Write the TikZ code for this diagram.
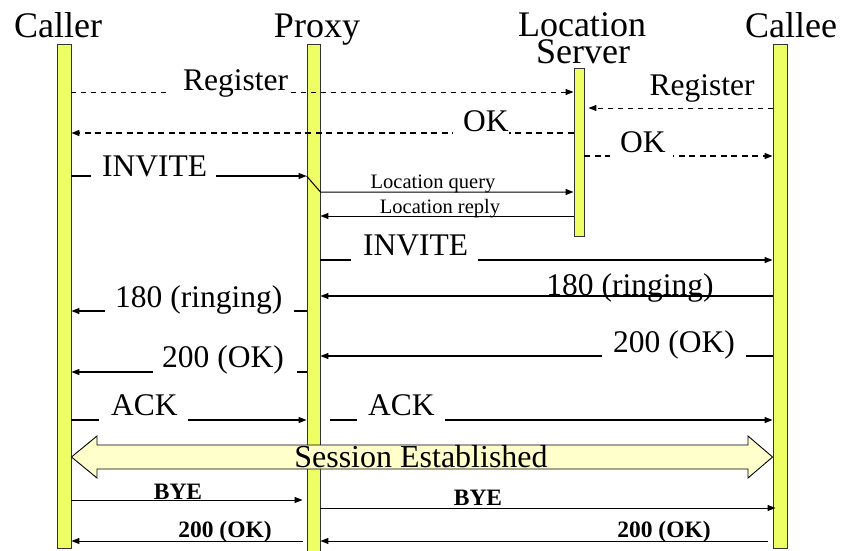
\documentclass[tikz,border=0pt]{standalone}
\usepackage{fontspec}
\setmainfont{Liberation Serif}
\usetikzlibrary{arrows.meta}
\definecolor{baryellow}{RGB}{238,255,102}
\definecolor{sessfill}{RGB}{255,255,204}
\begin{document}
\begin{tikzpicture}[x=1pt,y=-1pt,
  bar/.style={draw=black!80, line width=0.9pt, fill=baryellow, anchor=north, inner sep=0pt},
  head/.style={font=\fontsize{36}{36}\selectfont, anchor=base, inner sep=0pt},
  big/.style={font=\fontsize{31.5}{31.5}\selectfont, anchor=base, inner sep=0pt},
  gaplbl/.style={big, fill=white, inner xsep=0pt, inner ysep=7pt, anchor=base west},
  small/.style={font=\fontsize{20.5}{20.5}\selectfont, anchor=base, inner sep=0pt},
  boldlbl/.style={font=\fontsize{23.5}{23.5}\selectfont\bfseries, anchor=base, inner sep=0pt},
  msg/.style={line width=1.2pt, -{Triangle[length=8pt,width=6pt]}},
  thinmsg/.style={line width=1pt, -{Triangle[length=8pt,width=6pt]}},
  dmsgthin/.style={line width=1pt, -{Triangle[length=8pt,width=6pt]}, dash pattern=on 5pt off 5pt},
  dmsg/.style={line width=1.4pt, -{Triangle[length=8pt,width=6pt]}, dash pattern=on 6pt off 4.5pt},
]
\useasboundingbox (0,0) rectangle (841,550);

% lifelines
\node[bar, minimum width=14pt, minimum height=504pt] (caller) at (64,44) {};
\node[bar, minimum width=13pt, minimum height=510pt] (proxy) at (313.5,44) {};
\node[bar, minimum width=10pt, minimum height=168pt] (ls) at (579,68) {};
\node[bar, minimum width=14pt, minimum height=504pt] (callee) at (780,44) {};

% headers
\node[head] (hcaller) at (58,37) {Caller};
\node[head] (hproxy) at (317,37) {Proxy};
\node[head] (hloc) at (582,36) {Location};
\node[head] (hserver) at (583,63) {Server};
\node[head] (hcallee) at (791,37) {Callee};

% Register
\draw[dmsgthin] (caller.east |- 0,92) -- (ls.west |- 0,92);
\node[gaplbl] (lreg1) at (170,90) {\kern13pt Register};
\draw[dmsgthin, shorten >=4pt] (callee.west |- 0,108) -- (ls.east |- 0,108);
\node[big] (lreg2) at (702,95) {Register};

% OK
\draw[dmsg] (ls.west |- 0,133) -- (caller.east |- 0,133);
\node[gaplbl, inner ysep=4pt] (lok1) at (453,131) {\kern10pt OK};
\draw[dmsg] (ls.east |- 0,156) -- (callee.west |- 0,156);
\node[gaplbl] (lok2) at (610,152) {\kern10pt OK\kern7pt};

% INVITE to proxy
\draw[msg] (caller.east |- 0,176) -- (proxy.west |- 0,176);
\node[gaplbl] (linv1) at (91,176) {\kern11pt INVITE\kern9pt};

% Location query / reply
\draw[thinmsg] (proxy.west |- 0,176) -- (proxy.east |- 0,192) -- (ls.west |- 0,192);
\node[small] (lq) at (433,188) {Location query};
\draw[thinmsg] (ls.west |- 0,216) -- (proxy.east |- 0,216);
\node[small] (lr) at (440,213) {Location reply};

% INVITE to callee
\draw[msg] (proxy.east |- 0,260) -- (callee.west |- 0,260);
\node[gaplbl] (linv2) at (351,255) {\kern12pt INVITE\kern10pt};

% 180 ringing
\draw[msg] (callee.west |- 0,296) -- (proxy.east |- 0,296);
\node[big] (l180r) at (630,295) {180 (ringing)};
\draw[msg] (proxy.west |- 0,311) -- (caller.east |- 0,311);
\node[gaplbl] (l180l) at (105,307) {\kern10pt 180 (ringing)\kern12pt};

% 200 OK
\draw[msg] (callee.west |- 0,356) -- (proxy.east |- 0,356);
\node[gaplbl] (l200r) at (602,352) {\kern11pt 200 (OK)\kern11pt};
\draw[msg] (proxy.west |- 0,372) -- (caller.east |- 0,372);
\node[gaplbl] (l200l) at (153,367) {\kern9pt 200 (OK)\kern13pt};

% ACK
\draw[msg] (caller.east |- 0,420) -- (proxy.west |- 0,420);
\node[gaplbl] (lack1) at (99,415) {\kern12pt ACK\kern10pt};
\draw[msg, shorten <=10pt] (proxy.east |- 0,420) -- (callee.west |- 0,420);
\node[gaplbl] (lack2) at (357,415) {\kern11pt ACK\kern10pt};

% Session established
\filldraw[fill=sessfill, draw=black, line width=0.9pt]
  (caller.east |- 0,457) -- (97,436) -- (97,445) -- (748,445) -- (748,436)
  -- (callee.west |- 0,457) -- (748,478) -- (748,469) -- (97,469) -- (97,478) -- cycle;
\node[font=\fontsize{32}{32}\selectfont, anchor=base, inner sep=0pt] (lsess) at (421,467) {Session Established};

% BYE
\draw[thinmsg, shorten >=4pt] (caller.east |- 0,500) -- (proxy.west |- 0,500);
\node[boldlbl] (lbye1) at (178,499) {BYE};
\draw[thinmsg, shorten >=-3pt] (proxy.east |- 0,508) -- (callee.west |- 0,508);
\node[boldlbl] (lbye2) at (478,505) {BYE};

% 200 OK final
\draw[thinmsg, shorten <=4pt] (proxy.west |- 0,541) -- (caller.east |- 0,541);
\node[boldlbl] (lok3) at (225,537) {200 (OK)};
\draw[thinmsg, shorten <=5pt] (callee.west |- 0,541) -- (proxy.east |- 0,541);
\node[boldlbl] (lok4) at (664,537) {200 (OK)};
\end{tikzpicture}
\end{document}
